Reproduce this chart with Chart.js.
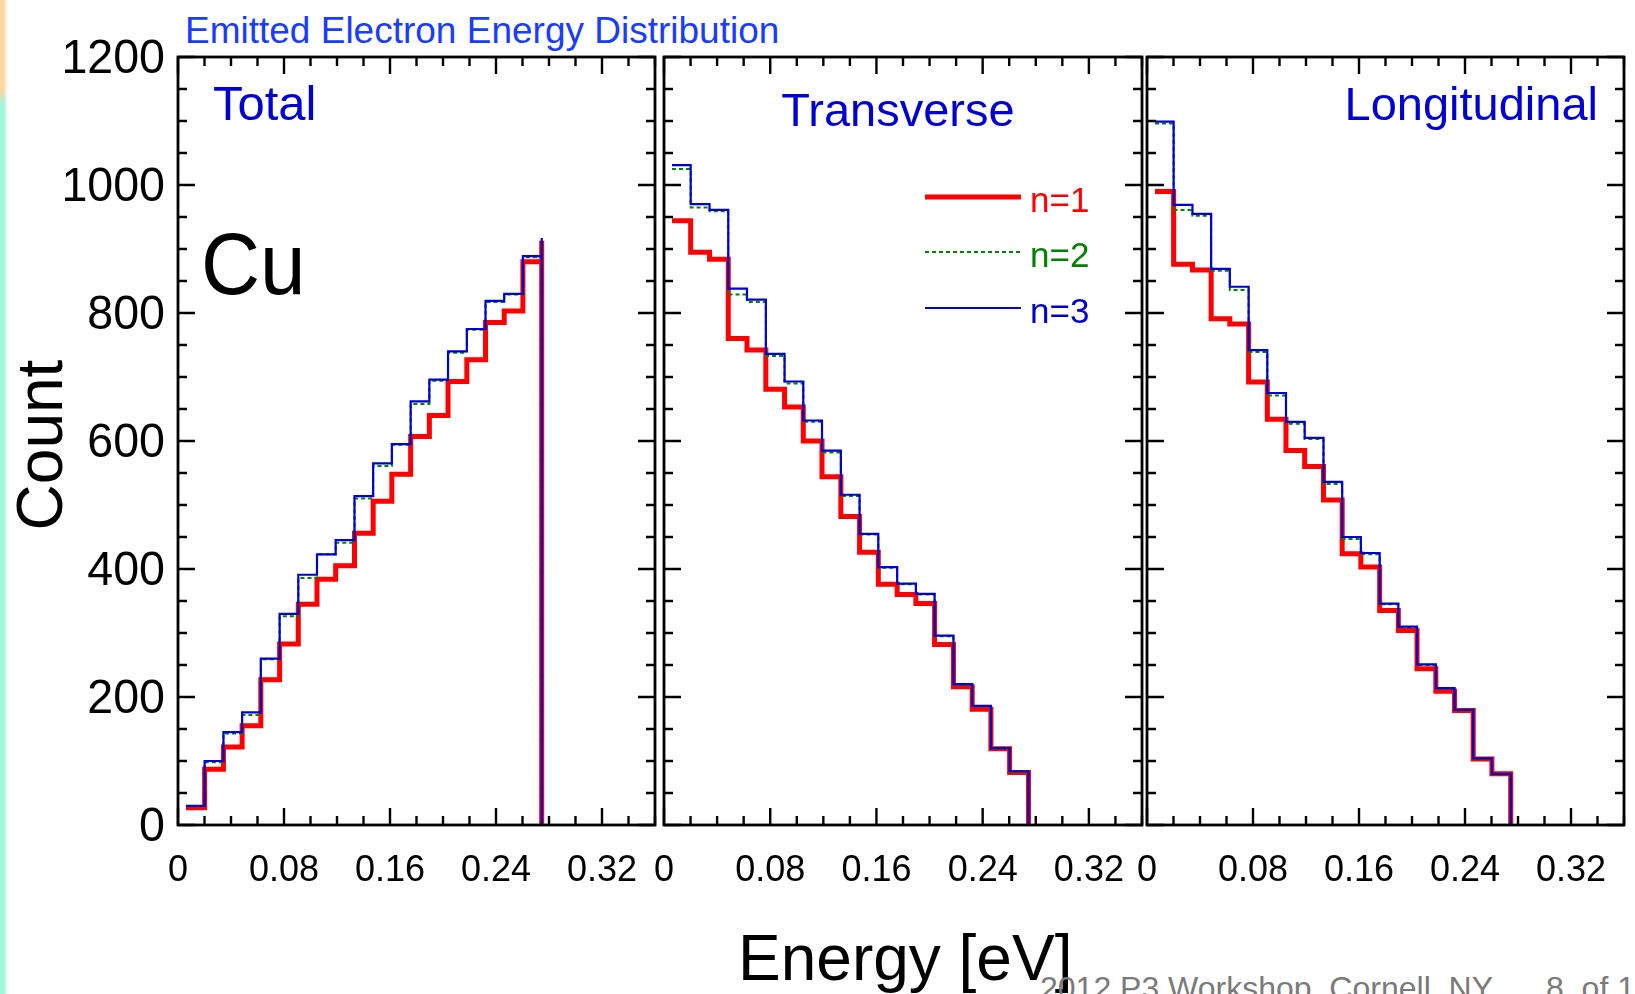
<!DOCTYPE html>
<html>
<head>
<meta charset="utf-8">
<title>Emitted Electron Energy Distribution</title>
<script src="https://cdn.jsdelivr.net/npm/chart.js@4.4.1/dist/chart.umd.min.js"></script>
<style>
    html, body { margin: 0; padding: 0; background: #fff; }
    body {
        position: relative;
        width: 1635px;
        height: 994px;
        overflow: hidden;
        font-family: "Liberation Sans", Arial, sans-serif;
    }
    canvas { position: absolute; left: 0; top: 0; }
    .txt { position: absolute; white-space: nowrap; line-height: 1; }
    .edge {
        position: absolute; left: 0; top: 0; width: 8px; height: 994px;
        background:
            linear-gradient(to right, rgba(255,255,255,0) 0, rgba(255,255,255,0) 45%, #fff 100%),
            linear-gradient(to bottom, #fcd8a4 0, #fcd8a4 90px, #a2f5dd 104px, #a2f5dd 100%);
    }
    #title { left: 185px; top: 11.5px; font-size: 37px; color: #1a3cff; }
    #ylabel { left: -110px; top: 413px; width: 300px; font-size: 64px; text-align: center; transform: rotate(-90deg); }
    #xlabel { left: 738px; top: 926px; font-size: 64px; }
    #footer { left: 1040px; top: 972px; font-size: 32px; color: #7a7a7a; }
    #page { left: 1546px; top: 972px; font-size: 32px; color: #7a7a7a; }
</style>
</head>
<body>
<div class="edge"></div>
<div class="txt" id="title">Emitted Electron Energy Distribution</div>
<div class="txt" id="ylabel">Count</div>
<div class="txt" id="xlabel">Energy [eV]</div>
<div class="txt" id="footer">2012 P3 Workshop, Cornell, NY</div>
<div class="txt" id="page">8&nbsp; of 1</div>

<canvas id="totalChart" width="1635" height="994"></canvas>
<canvas id="transverseChart" width="1635" height="994"></canvas>
<canvas id="longitudinalChart" width="1635" height="994"></canvas>

<script>
// Bin edges in eV (the last entry closes the final bin)
const binEdges = [0.0060, 0.0201, 0.0343, 0.0484, 0.0625, 0.0767, 0.0908, 0.1049, 0.1190, 0.1332,
                  0.1473, 0.1614, 0.1756, 0.1897, 0.2038, 0.2180, 0.2321, 0.2462, 0.2603, 0.2745];

const seriesNames = ['n=1', 'n=2', 'n=3'];

// Total energy
const totalN1 = [27, 87, 122, 155, 227, 283, 345, 384, 405, 456, 506, 548, 607, 640, 693, 727, 785, 803, 880];
const totalN2 = [29, 98, 143, 172, 259, 326, 386, 423, 441, 510, 561, 594, 658, 694, 738, 774, 817, 829, 887];
const totalN3 = [30, 100, 145, 176, 260, 330, 391, 423, 445, 514, 565, 595, 662, 696, 740, 775, 819, 830, 889];
// spike drawn at the upper edge of the total histogram
const totalEdgeSpike = [913, 915, 917];

// Transverse energy
const transN1 = [944, 895, 884, 760, 742, 681, 653, 600, 544, 482, 426, 376, 360, 346, 282, 216, 181, 119, 82];
const transN2 = [1025, 965, 959, 829, 817, 733, 690, 630, 582, 514, 454, 402, 376, 360, 295, 219, 185, 119, 83];
const transN3 = [1031, 970, 961, 838, 821, 736, 693, 632, 585, 516, 455, 403, 377, 361, 296, 220, 186, 120, 84];

// Longitudinal energy
const longN1 = [990, 876, 867, 791, 783, 692, 634, 585, 560, 508, 424, 403, 335, 304, 244, 209, 179, 103, 80];
const longN2 = [1096, 961, 952, 866, 836, 739, 671, 627, 603, 533, 447, 423, 345, 309, 250, 213, 179, 103, 79];
const longN3 = [1099, 969, 955, 869, 841, 742, 675, 630, 605, 536, 450, 425, 346, 310, 251, 214, 180, 104, 80];

const xTicks = [0, 0.08, 0.16, 0.24, 0.32];
const xTickLabels = ['0', '0.08', '0.16', '0.24', '0.32'];
const yTicks = [0, 200, 400, 600, 800, 1000, 1200];
const yTickLabels = ['0', '200', '400', '600', '800', '1000', '1200'];

const xMax = 0.36;
const yMax = 1200;
const xMinorStep = 0.02;
const yMinorStep = 50;
const minorPerMajor = 4;

const FONT = '"Liberation Sans", Arial, sans-serif';
const LABEL_BLUE = '#0000d0';

const seriesStyles = [
    { color: '#ff0000', width: 5, dash: [], order: 2 },
    { color: '#008000', width: 2, dash: [4, 3], order: 1 },
    { color: '#0000d0', width: 2.2, dash: [], order: 0 }
];

const plotTop = 57;
const plotBottom = 825;

Chart.defaults.font.family = FONT;

function stepPoints(counts, spike) {
    const pts = counts.map((c, i) => ({ x: binEdges[i], y: c }));
    const end = binEdges[counts.length];
    if (spike != null) pts.push({ x: end, y: spike });
    pts.push({ x: end, y: 0 });
    return pts;
}

function drawText(ctx, text, x, y, size, color, align, squeeze) {
    ctx.save();
    ctx.font = size + 'px ' + FONT;
    ctx.fillStyle = color;
    ctx.textAlign = align;
    ctx.textBaseline = 'alphabetic';
    ctx.translate(x, y);
    ctx.scale(squeeze || 1, 1);
    ctx.fillText(text, 0, 0);
    ctx.restore();
}

// frame, inward ticks, tick labels, panel notes and legend
const panelDecor = {
    id: 'panelDecor',
    afterDatasetsDraw(chart, args, opts) {
        const { ctx, chartArea: area, scales: { x, y } } = chart;
        const majorLen = 17, minorLen = 9;

        ctx.save();
        ctx.strokeStyle = '#000';
        ctx.lineWidth = 2.4;
        ctx.beginPath();
        for (let i = 0; i * xMinorStep <= xMax + 1e-9; i++) {
            const px = x.getPixelForValue(i * xMinorStep);
            const len = i % minorPerMajor === 0 ? majorLen : minorLen;
            ctx.moveTo(px, area.bottom);
            ctx.lineTo(px, area.bottom - len);
            ctx.moveTo(px, area.top);
            ctx.lineTo(px, area.top + len);
        }
        for (let i = 0; i * yMinorStep <= yMax; i++) {
            const py = y.getPixelForValue(i * yMinorStep);
            const len = i % minorPerMajor === 0 ? majorLen : minorLen;
            ctx.moveTo(area.left, py);
            ctx.lineTo(area.left + len, py);
            ctx.moveTo(area.right, py);
            ctx.lineTo(area.right - len, py);
        }
        ctx.stroke();

        ctx.lineWidth = 2.8;
        ctx.strokeRect(area.left, area.top, area.right - area.left, area.bottom - area.top);
        ctx.restore();

        xTicks.forEach((v, i) => {
            drawText(ctx, xTickLabels[i], x.getPixelForValue(v), area.bottom + 56, 36, '#000', 'center');
        });

        if (opts.yLabels) {
            yTicks.forEach((v, i) => {
                drawText(ctx, yTickLabels[i], area.left - 13, y.getPixelForValue(v) + 16, 48, '#000', 'right', 0.97);
            });
        }

        (opts.notes || []).forEach(n => {
            drawText(ctx, n.text, n.x, n.y, n.size, n.color, n.align, n.squeeze);
        });

        if (opts.legend) {
            const rows = [197, 252, 308];
            chart.data.datasets.forEach((ds, i) => {
                ctx.save();
                ctx.strokeStyle = ds.borderColor;
                ctx.lineWidth = ds.borderWidth;
                ctx.setLineDash(ds.borderDash || []);
                ctx.beginPath();
                ctx.moveTo(925, rows[i]);
                ctx.lineTo(1021, rows[i]);
                ctx.stroke();
                ctx.restore();
                drawText(ctx, ds.label, 1030, rows[i] + 15, 35, ds.borderColor, 'left');
            });
        }
    }
};

function makePanel(canvasId, left, right, series, spikes, decor) {
    const datasets = series.map((counts, i) => ({
        label: seriesNames[i],
        data: stepPoints(counts, spikes ? spikes[i] : null),
        borderColor: seriesStyles[i].color,
        borderWidth: seriesStyles[i].width,
        borderDash: seriesStyles[i].dash,
        order: seriesStyles[i].order,
        stepped: 'before',
        pointRadius: 0,
        fill: false,
        borderJoinStyle: 'miter',
        borderCapStyle: 'butt'
    }));

    return new Chart(document.getElementById(canvasId), {
        type: 'line',
        data: { datasets },
        options: {
            responsive: false,
            animation: false,
            events: [],
            layout: {
                autoPadding: false,
                padding: { left: left, right: 1635 - right, top: plotTop, bottom: 994 - plotBottom }
            },
            scales: {
                x: { type: 'linear', min: 0, max: xMax, display: false },
                y: { type: 'linear', min: 0, max: yMax, display: false }
            },
            plugins: {
                legend: { display: false },
                tooltip: { enabled: false },
                panelDecor: decor
            }
        },
        plugins: [panelDecor]
    });
}

makePanel('totalChart', 178, 655, [totalN1, totalN2, totalN3], totalEdgeSpike, {
    yLabels: true,
    notes: [
        { text: 'Total', x: 213, y: 120, size: 49, color: LABEL_BLUE, align: 'left' },
        { text: 'Cu', x: 201, y: 294, size: 88, color: '#000', align: 'left', squeeze: 0.93 }
    ]
});

makePanel('transverseChart', 664, 1142, [transN1, transN2, transN3], null, {
    legend: true,
    notes: [
        { text: 'Transverse', x: 898, y: 126, size: 47, color: LABEL_BLUE, align: 'center' }
    ]
});

makePanel('longitudinalChart', 1147, 1624, [longN1, longN2, longN3], null, {
    notes: [
        { text: 'Longitudinal', x: 1598, y: 120, size: 47, color: LABEL_BLUE, align: 'right' }
    ]
});
</script>
</body>
</html>
